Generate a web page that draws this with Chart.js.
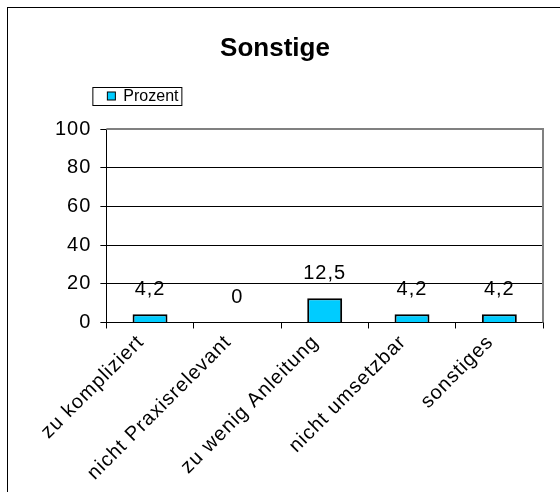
<!DOCTYPE html>
<html>
<head>
<meta charset="utf-8">
<script src="https://cdn.jsdelivr.net/npm/chart.js@4/dist/chart.umd.min.js"></script>
<style>
  html, body { margin: 0; padding: 0; background: #fff; overflow: hidden; }
</style>
</head>
<body>
<canvas id="chart" width="560" height="540"></canvas>
<script>
// data
let categories = ['zu kompliziert', 'nicht Praxisrelevant', 'zu wenig Anleitung', 'nicht umsetzbar', 'sonstiges'];
let prozent = [4.2, 0, 12.5, 4.2, 4.2];
let yTicks = [0, 20, 40, 60, 80, 100];
let chartTitle = 'Sonstige';
let seriesName = 'Prozent';

const FONT = "'Liberation Sans', Arial, sans-serif";
const BAR_COLOR = '#00CCFF';
const SPACING = '1px';   // the original text is set a bit loose

function fmt(v) {
    return String(v).replace('.', ',');
}

// frame round the whole chart, title, grey plot border, boxed legend, value labels
let excelLook = {
    id: 'excelLook',
    beforeUpdate(chart) {
        chart.ctx.letterSpacing = SPACING;
    },
    beforeDraw(chart) {
        let ctx = chart.ctx;
        ctx.letterSpacing = SPACING;
        ctx.save();
        ctx.strokeStyle = '#000';
        ctx.lineWidth = 1;
        ctx.strokeRect(7.5, 7.5, 700, 700);
        ctx.restore();
    },
    afterDraw(chart) {
        let ctx = chart.ctx;
        let a = chart.chartArea;
        ctx.save();

        // title, centred in the chart frame
        ctx.letterSpacing = '0px';
        ctx.fillStyle = '#000';
        ctx.font = 'bold 26px ' + FONT;
        ctx.textAlign = 'center';
        ctx.textBaseline = 'alphabetic';
        ctx.fillText(chartTitle, 275, 56);

        // plot area border (top / right) in grey
        ctx.strokeStyle = '#808080';
        ctx.lineWidth = 2;
        ctx.beginPath();
        ctx.moveTo(a.left, a.top);
        ctx.lineTo(a.right, a.top);
        ctx.lineTo(a.right, a.bottom);
        ctx.stroke();

        // legend box
        let lx = a.left - 14, ly = a.top - 42;
        ctx.strokeStyle = '#000';
        ctx.lineWidth = 1;
        ctx.strokeRect(lx + 0.5, ly + 0.5, 89, 18);
        ctx.fillStyle = BAR_COLOR;
        ctx.fillRect(lx + 15, ly + 5, 8, 8);
        ctx.strokeRect(lx + 15, ly + 5, 8, 8);
        ctx.fillStyle = '#000';
        ctx.font = '16px ' + FONT;
        ctx.textBaseline = 'middle';
        ctx.textAlign = 'left';
        ctx.fillText(seriesName, lx + 31, ly + 10);

        // value labels above bars
        let meta = chart.getDatasetMeta(0);
        ctx.letterSpacing = SPACING;
        ctx.font = '20px ' + FONT;
        ctx.textAlign = 'center';
        ctx.textBaseline = 'alphabetic';
        meta.data.forEach(function (bar, i) {
            ctx.fillText(fmt(prozent[i]), bar.x, bar.y - 19);
        });
        ctx.restore();
    }
};

let context = document.getElementById('chart');

let config = {
    type: 'bar',
    data: {
        labels: categories,
        datasets: [{
            label: seriesName,
            data: prozent,
            backgroundColor: BAR_COLOR,
            borderColor: '#000',
            borderWidth: 2,
            barPercentage: 0.4,
            categoryPercentage: 1.0
        }]
    },
    options: {
        responsive: false,
        animation: false,
        layout: {
            padding: { top: 129, left: 46, right: 17, bottom: 53 }
        },
        plugins: {
            legend: { display: false },
            tooltip: { enabled: false },
            title: { display: false }
        },
        scales: {
            x: {
                grid: {
                    offset: true,
                    drawOnChartArea: false,
                    drawTicks: true,
                    tickLength: 6,
                    color: '#000'
                },
                border: { color: '#000', width: 1 },
                ticks: {
                    color: '#000',
                    font: { family: FONT, size: 20 },
                    minRotation: 45,
                    maxRotation: 45,
                    padding: 2,
                    labelOffset: -9
                }
            },
            y: {
                min: 0,
                max: 100,
                afterBuildTicks(axis) {
                    axis.ticks = yTicks.map(v => ({ value: v }));
                },
                grid: {
                    color: '#000',
                    tickLength: 6,
                    drawTicks: true
                },
                border: { color: '#000', width: 1 },
                ticks: {
                    color: '#000',
                    font: { family: FONT, size: 20 },
                    padding: 9
                }
            }
        }
    },
    plugins: [excelLook]
};

let c = new Chart(context, config);
</script>
</body>
</html>
